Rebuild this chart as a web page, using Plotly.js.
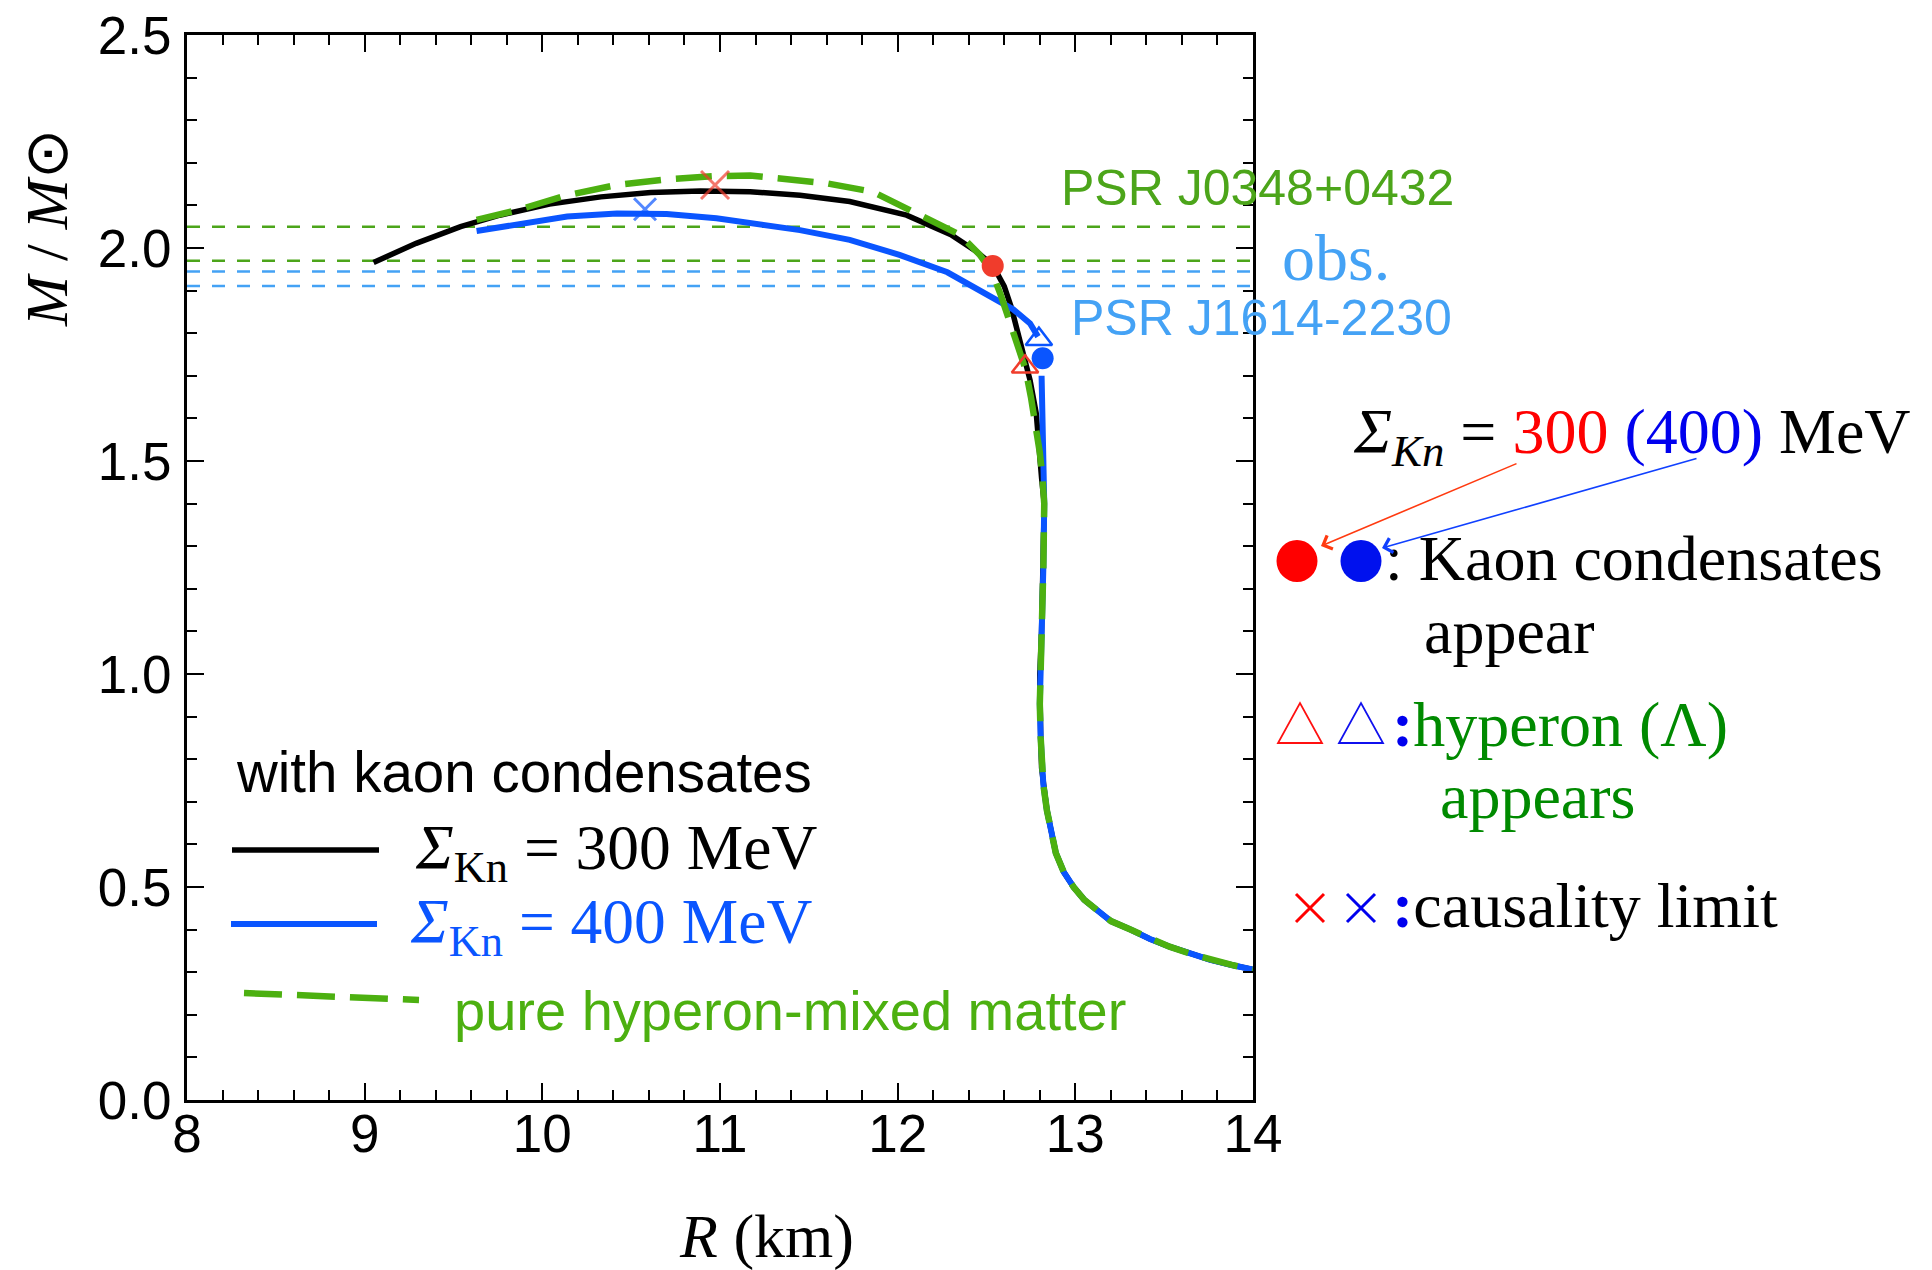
<!DOCTYPE html>
<html>
<head>
<meta charset="utf-8">
<script src="https://cdn.plot.ly/plotly-3.0.1.min.js"></script>
<style>html,body{margin:0;padding:0;background:#fff;}#chart{width:1932px;height:1270px;}</style>
</head>
<body>
<div id="chart"></div>
<script>
// ---------- data ----------
const xTickVals = [8, 9, 10, 11, 12, 13, 14];
const xTickText = ["8", "9", "10", "11", "12", "13", "14"];
const yTickVals = [0, 0.5, 1.0, 1.5, 2.0, 2.5];
const yTickText = ["0.0", "0.5", "1.0", "1.5", "2.0", "2.5"];

// Sigma_Kn = 300 MeV (upper branch, before joining the common envelope)
const blackR = [9.05, 9.29, 9.54, 9.76, 10.04, 10.33, 10.61, 10.89, 11.17, 11.45, 11.73, 12.05, 12.30, 12.445, 12.535, 12.60, 12.64, 12.70, 12.745, 12.78, 12.795, 12.81];
const blackM = [1.966, 2.011, 2.050, 2.077, 2.103, 2.120, 2.130, 2.134, 2.132, 2.124, 2.109, 2.077, 2.031, 1.991, 1.960, 1.910, 1.860, 1.768, 1.690, 1.612, 1.526, 1.46];

// Sigma_Kn = 400 MeV: upper branch ends at hyperon onset, lower branch starts below kaon onset
const blueUpperR = [9.63, 9.86, 10.14, 10.42, 10.70, 10.98, 11.17, 11.45, 11.73, 12.01, 12.28, 12.48, 12.65, 12.745, 12.79];
const blueUpperM = [2.040, 2.056, 2.074, 2.081, 2.080, 2.070, 2.060, 2.042, 2.019, 1.984, 1.943, 1.898, 1.856, 1.823, 1.792];
const blueLowerTopR = [12.81, 12.82];
const blueLowerTopM = [1.70, 1.55];

// pure hyperon-mixed matter (upper part)
const greenR = [9.63, 9.86, 10.14, 10.42, 10.70, 10.98, 11.17, 11.32, 11.60, 11.86, 12.16, 12.35, 12.46, 12.53, 12.58, 12.63, 12.67, 12.72, 12.75, 12.78, 12.80, 12.815];
const greenM = [2.066, 2.089, 2.124, 2.148, 2.161, 2.169, 2.170, 2.164, 2.152, 2.132, 2.070, 2.031, 1.985, 1.945, 1.890, 1.830, 1.775, 1.715, 1.650, 1.580, 1.520, 1.46];

// common low-mass envelope shared by all three curves
const sharedR = [12.825, 12.82, 12.81, 12.80, 12.80, 12.805, 12.81, 12.82, 12.84, 12.865, 12.89, 12.935, 12.99, 13.05, 13.12, 13.20, 13.31, 13.42, 13.53, 13.65, 13.76, 13.88, 14.0];
const sharedM = [1.40, 1.25, 1.10, 1.00, 0.93, 0.85, 0.78, 0.74, 0.68, 0.63, 0.58, 0.535, 0.50, 0.47, 0.446, 0.42, 0.40, 0.378, 0.36, 0.343, 0.329, 0.317, 0.306];

// observational constraints (bands drawn as dashed lines)
const psrJ0348 = [1.97, 2.05];
const psrJ1614 = [1.911, 1.945];

// special points: [Sigma=300, Sigma=400]
const kaonR = [12.535, 12.816];
const kaonM = [1.958, 1.741];
const hyperonR = [12.717, 12.795];
const hyperonM = [1.721, 1.786];
const causalR = [10.972, 10.578];
const causalM = [2.148, 2.091];

// ---------- styles ----------
const RED = "#f03c2c", BLUE = "#0a55ff", BLACK = "#000000", GREEN = "#4cb010";
const OBS_GREEN = "#4ca51a", OBS_BLUE = "#44a2f5";
const SANS = "Liberation Sans, Arial, sans-serif";
const SERIF = "Liberation Serif, Times New Roman, serif";

const traces = [];
const xr = [8, 14];
psrJ0348.forEach(v => traces.push({x: xr, y: [v, v], mode: "lines", line: {color: OBS_GREEN, width: 2.5, dash: "13px,12px"}, hoverinfo: "skip"}));
psrJ1614.forEach(v => traces.push({x: xr, y: [v, v], mode: "lines", line: {color: OBS_BLUE, width: 2.5, dash: "13px,12px"}, hoverinfo: "skip"}));

traces.push({x: blackR.concat(sharedR), y: blackM.concat(sharedM), mode: "lines", line: {color: BLACK, width: 5.5}});
traces.push({x: blueUpperR.concat([null], blueLowerTopR, sharedR), y: blueUpperM.concat([null], blueLowerTopM, sharedM),
  mode: "lines", connectgaps: false, line: {color: BLUE, width: 6}});
traces.push({x: greenR.concat(sharedR), y: greenM.concat(sharedM), mode: "lines", line: {color: GREEN, width: 6.5, dash: "36px,15px"}});

traces.push({x: causalR, y: causalM, mode: "markers", marker: {symbol: "x-thin-open", size: [28, 22], color: [RED, BLUE], line: {color: [RED, BLUE], width: 3}}});
traces.push({x: hyperonR, y: hyperonM, mode: "markers", marker: {symbol: "triangle-up-open", size: 23, color: [RED, BLUE], line: {color: [RED, BLUE], width: 2.5}}});
traces.push({x: kaonR, y: kaonM, mode: "markers", marker: {symbol: "circle", size: 22, color: [RED, BLUE], line: {width: 0}}});

// ---------- geometry helpers (pixels -> paper) ----------
const L = 187, R = 1253, T = 35, B = 1100;
const px = X => (X - L) / (R - L);
const py = Y => (B - Y) / (B - T);

const ann = [];
function txt(X, Y, text, font, extra) {
  ann.push(Object.assign({xref: "paper", yref: "paper", x: px(X), y: py(Y), text: text, showarrow: false,
    xanchor: "left", yanchor: "middle", font: font}, extra || {}));
}
// axis titles
txt(47, 228, "<i>M</i> / <i>M</i>⊙", {family: SERIF, size: 60, color: BLACK}, {textangle: -90, xanchor: "center"});
txt(766, 1236, "<i>R</i> (km)", {family: SERIF, size: 62, color: BLACK}, {xanchor: "center"});

// observation labels
txt(1059, 188, "PSR J0348+0432", {family: SANS, size: 50, color: OBS_GREEN});
txt(1069, 318, "PSR J1614-2230", {family: SANS, size: 50, color: OBS_BLUE});
txt(1280, 257, "obs.", {family: SERIF, size: 66, color: OBS_BLUE});

// in-plot legend
txt(234, 772, "with kaon condensates", {family: SANS, size: 56.5, color: BLACK});
txt(413, 852, "<i>Σ</i><sub>Kn</sub> = 300 MeV", {family: SERIF, size: 63.5, color: BLACK});
txt(408, 926, "<i>Σ</i><sub>Kn</sub> = 400 MeV", {family: SERIF, size: 63.5, color: BLUE});
txt(452, 1010, "pure hyperon-mixed matter", {family: SANS, size: 56, color: GREEN});

// right-hand key
txt(1351, 436, "<i>Σ</i><sub><i>Kn</i></sub> = <span style='color:#ff0000'>300</span> <span style='color:#0000ee'>(400)</span> MeV", {family: SERIF, size: 64, color: BLACK});
txt(1383, 558, ": Kaon condensates", {family: SERIF, size: 64, color: BLACK});
txt(1422, 631, "appear", {family: SERIF, size: 64, color: BLACK});
txt(1390, 724, "<span style='color:#0000ee'><b>:</b></span>hyperon (Λ)", {family: SERIF, size: 64, color: "#008a00"});
txt(1438, 797, "appears", {family: SERIF, size: 64, color: "#008a00"});
txt(1390, 905, "<span style='color:#0000ee'><b>:</b></span>causality limit", {family: SERIF, size: 64, color: BLACK});

// arrows from the key values to the dots
ann.push({xref: "paper", yref: "paper", x: px(1321), y: py(546), ax: 197, ay: -83, text: "", showarrow: true,
  arrowhead: 4, arrowsize: 1.8, arrowwidth: 1.6, arrowcolor: "#ff3a10", standoff: 0, startstandoff: 0});
ann.push({xref: "paper", yref: "paper", x: px(1382), y: py(548), ax: 316, ay: -90, text: "", showarrow: true,
  arrowhead: 4, arrowsize: 1.8, arrowwidth: 1.6, arrowcolor: "#1040ff", standoff: 0, startstandoff: 0});

const shapes = [];
// legend sample lines
shapes.push({type: "line", xref: "paper", yref: "paper", x0: px(232), x1: px(379), y0: py(850), y1: py(850), line: {color: BLACK, width: 5.5}});
shapes.push({type: "line", xref: "paper", yref: "paper", x0: px(231), x1: px(377), y0: py(924), y1: py(924), line: {color: BLUE, width: 6}});
shapes.push({type: "line", xref: "paper", yref: "paper", x0: px(244), x1: px(419), y0: py(993), y1: py(1000), line: {color: GREEN, width: 6.5, dash: "38px,15px"}});
// key symbols
function pixShape(X, Y, obj) {
  shapes.push(Object.assign({xref: "paper", yref: "paper", xsizemode: "pixel", ysizemode: "pixel", xanchor: px(X), yanchor: py(Y)}, obj));
}
pixShape(1297, 561, {type: "circle", x0: -20.5, x1: 20.5, y0: -21, y1: 21, fillcolor: "#ff0000", line: {width: 0}});
pixShape(1361, 561, {type: "circle", x0: -20.5, x1: 20.5, y0: -21, y1: 21, fillcolor: "#0011ee", line: {width: 0}});
pixShape(1300, 724, {type: "path", path: "M -22 -19 L 22 -19 L 0 21 Z", line: {color: "#ff1010", width: 1.8}});
pixShape(1361, 724, {type: "path", path: "M -22 -19 L 22 -19 L 0 21 Z", line: {color: "#1010ee", width: 1.8}});
pixShape(1310, 908, {type: "path", path: "M -14 -14 L 14 14 M -14 14 L 14 -14", line: {color: "#ff0000", width: 3}});
pixShape(1361, 908, {type: "path", path: "M -14 -14 L 14 14 M -14 14 L 14 -14", line: {color: "#0000ee", width: 3}});

const axisCommon = {
  showline: true, linecolor: BLACK, linewidth: 3, mirror: "allticks",
  ticks: "inside", ticklen: 17, tickwidth: 2, tickcolor: BLACK,
  showgrid: false, zeroline: false,
  tickfont: {family: SANS, size: 53, color: BLACK}
};
const layout = {
  width: 1932, height: 1270,
  margin: {l: L, r: 1932 - R, t: T, b: 1270 - B},
  paper_bgcolor: "#ffffff", plot_bgcolor: "#ffffff",
  showlegend: false,
  xaxis: Object.assign({}, axisCommon, {range: [8, 14], tickmode: "array", tickvals: xTickVals, ticktext: xTickText,
    ticklabelstandoff: -15,
    minor: {dtick: 0.2, ticks: "inside", ticklen: 10, tickwidth: 2, tickcolor: BLACK, showgrid: false}}),
  yaxis: Object.assign({}, axisCommon, {range: [0, 2.5], tickmode: "array", tickvals: yTickVals, ticktext: yTickText,
    ticklabelstandoff: 2,
    minor: {dtick: 0.1, ticks: "inside", ticklen: 10, tickwidth: 2, tickcolor: BLACK, showgrid: false}}),
  annotations: ann,
  shapes: shapes
};
Plotly.newPlot("chart", traces, layout, {staticPlot: true, displayModeBar: false});
</script>
</body>
</html>
